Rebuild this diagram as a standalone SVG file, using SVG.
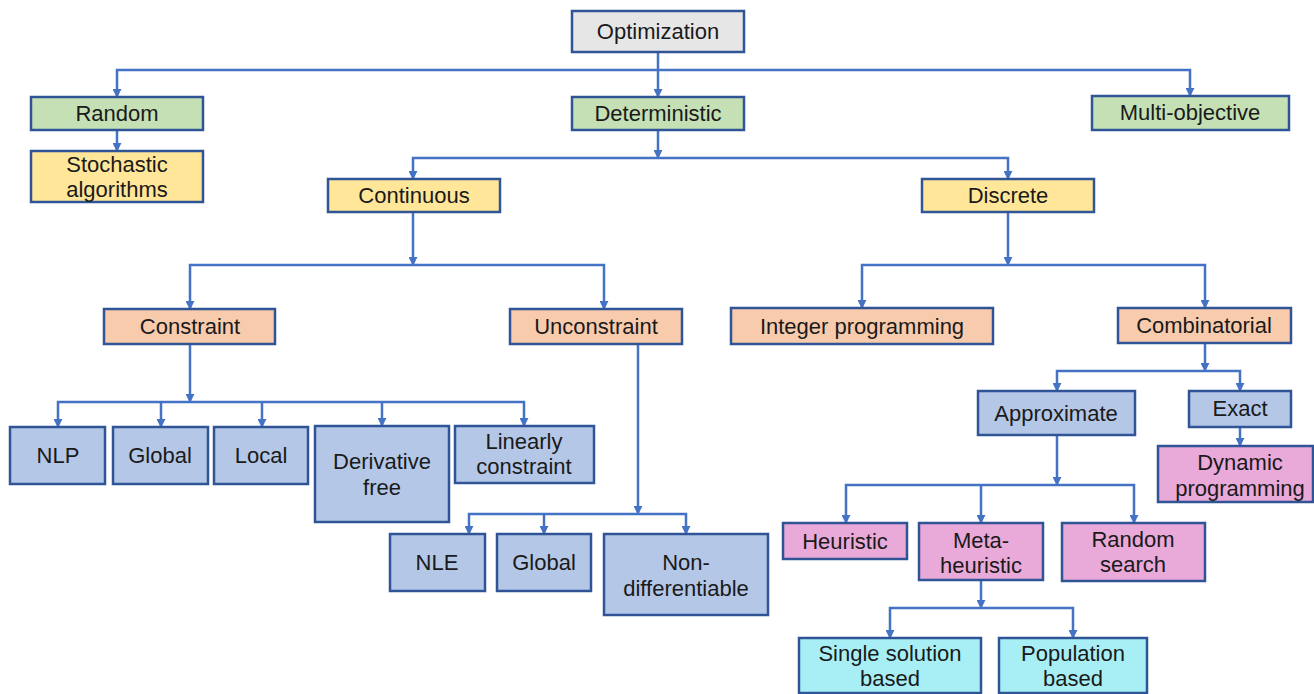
<svg xmlns="http://www.w3.org/2000/svg" width="1314" height="694" viewBox="0 0 1314 694">
<style>
.b{stroke:#2f5597;stroke-width:2.5}
.g{fill:#e7e6e6}.gr{fill:#c5e0b4}.y{fill:#ffe699}.o{fill:#f8cbad}.bl{fill:#b4c7e7}.p{fill:#e9a9d9}.c{fill:#a8eff5}
text{font-family:"Liberation Sans",Arial,sans-serif;font-size:22px;fill:#1a1a1a;text-anchor:middle}
.cn path{fill:none;stroke:#4472c4;stroke-width:2.5;marker-end:url(#a)}
</style>
<defs>
<marker id="a" viewBox="0 0 10 10" refX="9" refY="5" markerWidth="9" markerHeight="9" markerUnits="userSpaceOnUse" orient="auto">
<path d="M0,0 L10,5 L0,10 Z" fill="#4472c4"/>
</marker>
</defs>
<rect width="1314" height="694" fill="#fff"/>
<g class="cn">
<path d="M658,52 V70 H117 V97"/>
<path d="M658,70 V97"/>
<path d="M658,70 H1190 V96"/>
<path d="M117,130 V151"/>
<path d="M658,130 V158"/>
<path d="M658,158 H413 V179"/>
<path d="M658,158 H1008 V179"/>
<path d="M413,212 V265"/>
<path d="M413,265 H190 V309"/>
<path d="M413,265 H604 V309"/>
<path d="M1008,212 V265"/>
<path d="M1008,265 H862 V308"/>
<path d="M1008,265 H1205 V308"/>
<path d="M190,344 V402"/>
<path d="M190,402 H58 V427"/>
<path d="M161,402 V427"/>
<path d="M262,402 V427"/>
<path d="M382,402 V426"/>
<path d="M190,402 H524 V426"/>
<path d="M638,344 V514"/>
<path d="M638,514 H469 V534"/>
<path d="M544,514 V534"/>
<path d="M638,514 H686 V534"/>
<path d="M1205,343 V371"/>
<path d="M1205,371 H1057 V391"/>
<path d="M1205,371 H1240 V391"/>
<path d="M1240,427 V446"/>
<path d="M1057,435 V485"/>
<path d="M1057,485 H846 V523"/>
<path d="M981,485 V523"/>
<path d="M1057,485 H1134 V523"/>
<path d="M981,580 V608"/>
<path d="M981,608 H890 V638"/>
<path d="M981,608 H1073 V638"/>
</g>
<g id="optimization"><rect class="b g" x="572" y="11" width="172" height="41"/><text x="658" y="39">Optimization</text></g>
<g id="random"><rect class="b gr" x="31" y="97" width="172" height="33"/><text x="117" y="121">Random</text></g>
<g id="deterministic"><rect class="b gr" x="572" y="97" width="172" height="33"/><text x="658" y="121">Deterministic</text></g>
<g id="multiobjective"><rect class="b gr" x="1092" y="96" width="197" height="34"/><text x="1190" y="120">Multi-objective</text></g>
<g id="stochastic"><rect class="b y" x="31" y="151" width="172" height="51"/><text x="117" y="172">Stochastic</text><text x="117" y="197">algorithms</text></g>
<g id="continuous"><rect class="b y" x="328" y="179" width="172" height="33"/><text x="414" y="203">Continuous</text></g>
<g id="discrete"><rect class="b y" x="922" y="179" width="172" height="33"/><text x="1008" y="203">Discrete</text></g>
<g id="constraint"><rect class="b o" x="104" y="309" width="171" height="35"/><text x="190" y="334">Constraint</text></g>
<g id="unconstraint"><rect class="b o" x="510" y="309" width="172" height="35"/><text x="596" y="334">Unconstraint</text></g>
<g id="integer"><rect class="b o" x="731" y="308" width="262" height="36"/><text x="862" y="334">Integer programming</text></g>
<g id="combinatorial"><rect class="b o" x="1118" y="308" width="173" height="35"/><text x="1204" y="333">Combinatorial</text></g>
<g id="nlp"><rect class="b bl" x="10" y="427" width="95" height="57"/><text x="58" y="463">NLP</text></g>
<g id="global1"><rect class="b bl" x="113" y="427" width="95" height="57"/><text x="160" y="463">Global</text></g>
<g id="local"><rect class="b bl" x="214" y="427" width="94" height="57"/><text x="261" y="463">Local</text></g>
<g id="derivfree"><rect class="b bl" x="315" y="426" width="134" height="96"/><text x="382" y="469">Derivative</text><text x="382" y="495">free</text></g>
<g id="linearly"><rect class="b bl" x="455" y="426" width="139" height="57"/><text x="524" y="449">Linearly</text><text x="524" y="474">constraint</text></g>
<g id="nle"><rect class="b bl" x="390" y="534" width="95" height="57"/><text x="437" y="570">NLE</text></g>
<g id="global2"><rect class="b bl" x="497" y="534" width="94" height="57"/><text x="544" y="570">Global</text></g>
<g id="nondiff"><rect class="b bl" x="604" y="534" width="164" height="81"/><text x="686" y="570">Non-</text><text x="686" y="596">differentiable</text></g>
<g id="approximate"><rect class="b bl" x="978" y="391" width="157" height="44"/><text x="1056" y="421">Approximate</text></g>
<g id="exact"><rect class="b bl" x="1189" y="391" width="102" height="36"/><text x="1240" y="416">Exact</text></g>
<g id="dynamic"><rect class="b p" x="1158" y="446" width="155" height="56"/><text x="1240" y="470">Dynamic</text><text x="1240" y="496">programming</text></g>
<g id="heuristic"><rect class="b p" x="783" y="523" width="124" height="36"/><text x="845" y="549">Heuristic</text></g>
<g id="metaheuristic"><rect class="b p" x="919" y="523" width="124" height="57"/><text x="981" y="548">Meta-</text><text x="981" y="573">heuristic</text></g>
<g id="randomsearch"><rect class="b p" x="1062" y="523" width="143" height="58"/><text x="1133" y="547">Random</text><text x="1133" y="572">search</text></g>
<g id="single"><rect class="b c" x="799" y="638" width="182" height="55"/><text x="890" y="661">Single solution</text><text x="890" y="686">based</text></g>
<g id="population"><rect class="b c" x="999" y="638" width="148" height="55"/><text x="1073" y="661">Population</text><text x="1073" y="686">based</text></g>
</svg>
